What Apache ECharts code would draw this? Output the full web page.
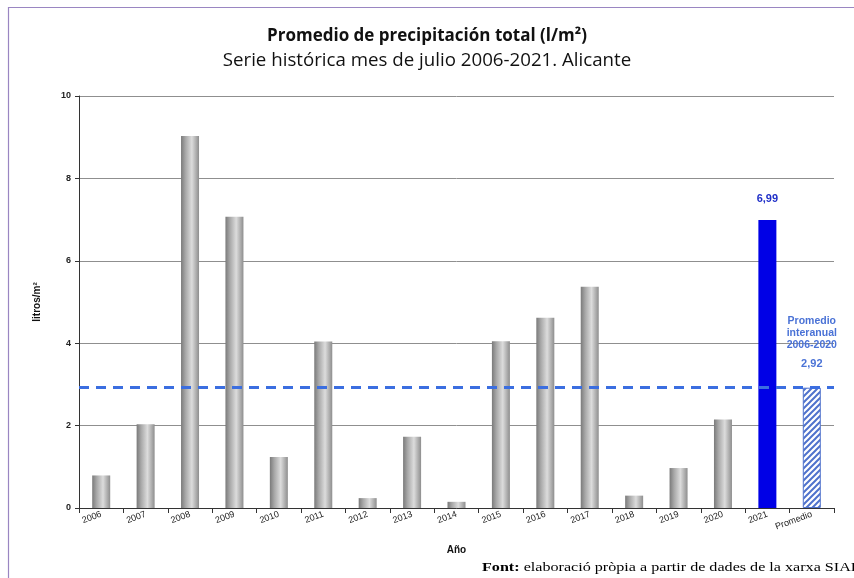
<!DOCTYPE html>
<html><head><meta charset="utf-8">
<script src="https://cdn.jsdelivr.net/npm/echarts@6/dist/echarts.min.js"></script>
<style>html,body{margin:0;padding:0;background:#fff}#c{width:854px;height:578px}</style>
</head><body><div id="c"></div>
<script>
const categories = ['2006','2007','2008','2009','2010','2011','2012','2013','2014','2015','2016','2017','2018','2019','2020','2021','Promedio'];
const values = [0.79, 2.03, 9.03, 7.07, 1.24, 4.04, 0.24, 1.73, 0.15, 4.05, 4.62, 5.37, 0.30, 0.97, 2.15, 6.99, 2.92];
const averageValue = 2.92;
const yTicks = [0, 2, 4, 6, 8, 10];

const pc = document.createElement('canvas');
pc.width = 6; pc.height = 6;
const g = pc.getContext('2d');
g.fillStyle = '#ffffff'; g.fillRect(0,0,6,6);
g.strokeStyle = '#4f72cc'; g.lineWidth = 2;
g.beginPath();
g.moveTo(-1,7); g.lineTo(7,-1);
g.moveTo(-4,4); g.lineTo(4,-4);
g.moveTo(2,10); g.lineTo(10,2);
g.stroke();

const grayGrad = {type:'linear',x:0,y:0,x2:1,y2:0,colorStops:[
  {offset:0,color:'#7a7a7a'},{offset:0.25,color:'#a8a8a8'},{offset:0.6,color:'#dcdcdc'},{offset:1,color:'#8e8e8e'}]};
const fmt = v => v.toFixed(2).replace('.', ',');

const data = values.map((v,i) => {
  const c = categories[i];
  if (c === '2021') return {value:v, itemStyle:{color:'#0000e6'},
    label:{show:true,position:'top',distance:16,formatter:p=>fmt(p.value),color:'#1f2fc8',fontWeight:'bold',fontSize:11,fontFamily:'Liberation Sans'}};
  if (c === 'Promedio') return {value:v, itemStyle:{color:{image:pc,repeat:'repeat'},borderColor:'#4f72cc',borderWidth:1},
    label:{show:true,position:'top',distance:11,
      formatter:p=>'{a|Promedio}\n{a|interanual}\n{a|2006-2020}\n{b|'+fmt(p.value)+'}',
      rich:{a:{color:'#4a72d6',fontWeight:'bold',fontSize:10.5,fontFamily:'Liberation Sans',lineHeight:12,align:'center'},
            b:{color:'#4a72d6',fontWeight:'bold',fontSize:11,fontFamily:'Liberation Sans',lineHeight:26,align:'center'}}}};
  return {value:v, itemStyle:{color:grayGrad}};
});

const chart = echarts.init(document.getElementById('c'));
chart.setOption({
  animation:false,
  backgroundColor:'#fff',
  title:{text:'Promedio de precipitación total (l/m²)',subtext:'Serie histórica mes de julio 2006-2021. Alicante',
    left:'center',top:23,itemGap:6,
    textStyle:{fontFamily:'Open Sans',fontWeight:'bold',fontSize:17,color:'#111'},
    subtextStyle:{fontFamily:'Open Sans',fontSize:18.7,color:'#111'}},
  grid:{left:79,right:20,top:96,bottom:70,containLabel:false},
  xAxis:{type:'category',data:categories,
    name:'Año',nameLocation:'middle',nameGap:37,
    nameTextStyle:{fontFamily:'Liberation Sans',fontWeight:'bold',fontSize:10,color:'#111'},
    axisLine:{lineStyle:{color:'#333'}},
    axisTick:{show:true,alignWithLabel:false,lineStyle:{color:'#333'}},
    axisLabel:{rotate:20,fontFamily:'Liberation Sans',fontSize:9,color:'#222',margin:6,interval:0}},
  yAxis:{type:'value',min:0,max:10,interval:2,
    name:'litros/m²',nameLocation:'middle',nameGap:37,nameRotate:90,
    nameTextStyle:{fontFamily:'Liberation Sans',fontWeight:'bold',fontSize:10,color:'#111'},
    axisLine:{show:true,lineStyle:{color:'#333'}},
    axisTick:{show:true,length:4,lineStyle:{color:'#333'}},
    axisLabel:{fontFamily:'Liberation Sans',fontWeight:'bold',fontSize:9,color:'#222',margin:8,
      formatter:v=>yTicks.includes(v)?String(v):''},
    splitLine:{lineStyle:{color:'#8f8f8f',width:1}}},
  series:[{type:'bar',data:data,barWidth:18,
    markLine:{silent:true,symbol:'none',label:{show:false},
      lineStyle:{color:'#3b6ee0',width:3,type:[10,7]},
      data:[{yAxis:averageValue}]}}],
  graphic:[
    {type:'rect',shape:{x:8.5,y:7.5,width:900,height:700},style:{fill:'none',stroke:'#9a86c2',lineWidth:1.2},silent:true},
    {type:'text',x:482,y:561,scaleX:1.24,style:{text:'{b|Font:} elaboració pròpia a partir de dades de la xarxa SIAR',
      rich:{b:{fontFamily:'Liberation Serif',fontWeight:'bold',fontSize:13,fill:'#000'}},
      fontFamily:'Liberation Serif',fontSize:13,fill:'#000'}}
  ]
});
</script></body></html>
